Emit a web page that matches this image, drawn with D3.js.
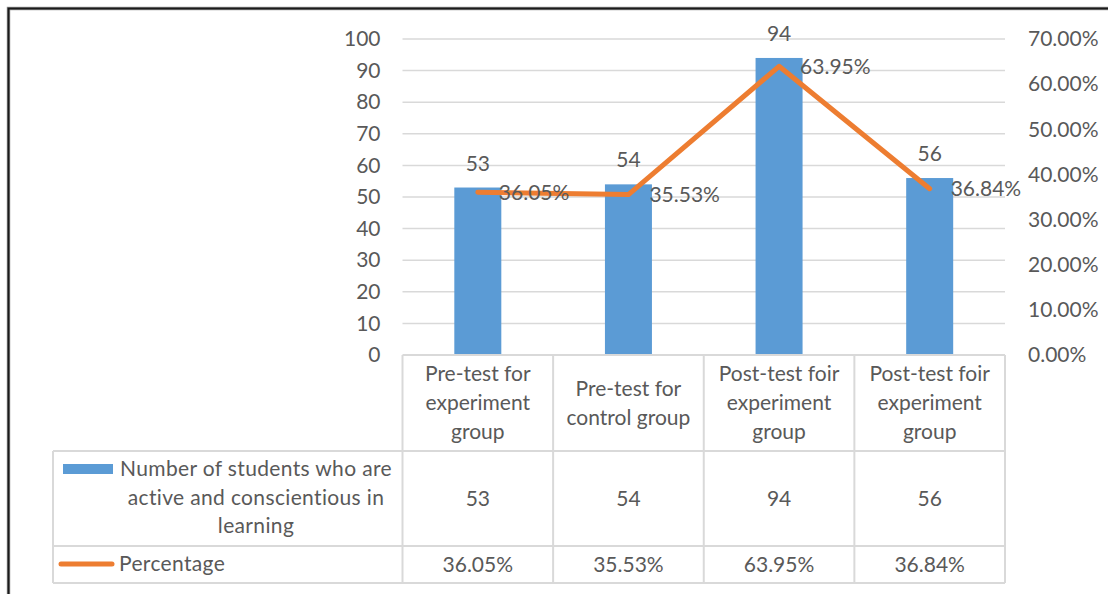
<!DOCTYPE html>
<html>
<head>
<meta charset="utf-8">
<script src="https://cdn.jsdelivr.net/npm/d3@7"></script>
<style>
  html, body { margin: 0; padding: 0; background: #fff; }
  svg { display: block; font-family: Lato, "Open Sans", sans-serif; }
</style>
</head>
<body>
<svg id="chart" width="1108" height="594"></svg>
<script>
// ---- data ----
const categories = [
  "Pre-test for experiment group",
  "Pre-test for control group",
  "Post-test foir experiment group",
  "Post-test foir experiment group"
];
const categoryLines = [
  ["Pre-test for", "experiment", "group"],
  ["Pre-test for", "control group"],
  ["Post-test foir", "experiment", "group"],
  ["Post-test foir", "experiment", "group"]
];
const students = [53, 54, 94, 56];
const percentages = [36.05, 35.53, 63.95, 36.84];
const leftTicks = [0, 10, 20, 30, 40, 50, 60, 70, 80, 90, 100];
const rightTicks = [0, 10, 20, 30, 40, 50, 60, 70];
const seriesNames = [["Number of students who are", "active and conscientious in", "learning"], ["Percentage"]];

// ---- layout ----
const svg = d3.select("#chart");
const textColor = "#595959";
const gridColor = "#D9D9D9";
const barColor = "#5B9BD5";
const lineColor = "#ED7D31";
const fs = 21;

const plotLeft = 402.5, plotRight = 1005, plotTop = 39, plotBottom = 355;
const idx = d3.range(categories.length);
const x = d3.scaleBand().domain(idx).range([plotLeft, plotRight]).paddingInner(0).paddingOuter(0);
const yL = d3.scaleLinear().domain([0, 100]).range([plotBottom, plotTop]);
const yR = d3.scaleLinear().domain([0, 70]).range([plotBottom, plotTop]);

// frame (top & left border)
svg.append("path")
  .attr("d", "M8.5,594 L8.5,8.5 L1108,8.5")
  .attr("fill", "none").attr("stroke", "#9a9a9a").attr("stroke-width", 3.5);
svg.append("path")
  .attr("d", "M8.5,594 L8.5,8.5 L1108,8.5")
  .attr("fill", "none").attr("stroke", "#1a1a1a").attr("stroke-width", 2);

// gridlines
svg.append("g").selectAll("line").data(leftTicks.filter(d => d > 0)).join("line")
  .attr("x1", plotLeft).attr("x2", plotRight)
  .attr("y1", d => yL(d)).attr("y2", d => yL(d))
  .attr("stroke", gridColor).attr("stroke-width", 1.5);

// left axis
const axL = svg.append("g").attr("transform", `translate(${plotLeft},0)`)
  .call(d3.axisLeft(yL).tickValues(leftTicks).tickSize(0).tickPadding(22).tickFormat(d3.format("d")));
axL.select(".domain").remove();
axL.selectAll("text").attr("fill", textColor).style("font-size", fs + "px").style("font-family", "Lato");

// right axis
const axR = svg.append("g").attr("transform", `translate(${plotRight},0)`)
  .call(d3.axisRight(yR).tickValues(rightTicks).tickSize(0).tickPadding(23).tickFormat(d => d.toFixed(2) + "%"));
axR.select(".domain").remove();
axR.selectAll("text").attr("fill", textColor).style("font-size", fs + "px").style("font-family", "Lato");

// bars
const barW = 47;
svg.append("g").selectAll("rect").data(students).join("rect")
  .attr("x", (d, i) => x(i) + x.bandwidth() / 2 - barW / 2)
  .attr("width", barW)
  .attr("y", d => yL(d))
  .attr("height", d => yL(0) - yL(d))
  .attr("fill", barColor);

// bar labels
svg.append("g").selectAll("text").data(students).join("text")
  .attr("x", (d, i) => x(i) + x.bandwidth() / 2)
  .attr("y", d => yL(d) - 17)
  .attr("text-anchor", "middle")
  .attr("fill", textColor).style("font-size", fs + "px")
  .text(d => d);

// line
const line = d3.line()
  .x((d, i) => x(i) + x.bandwidth() / 2)
  .y(d => yR(d));
svg.append("path").datum(percentages)
  .attr("d", line)
  .attr("fill", "none").attr("stroke", lineColor).attr("stroke-width", 5)
  .attr("stroke-linecap", "round").attr("stroke-linejoin", "round");

// line labels
svg.append("g").selectAll("text").data(percentages).join("text")
  .attr("x", (d, i) => x(i) + x.bandwidth() / 2 + 21)
  .attr("y", d => yR(d))
  .attr("dy", "0.35em")
  .attr("fill", textColor).style("font-size", fs + "px")
  .text(d => d.toFixed(2) + "%");

// ---- data table ----
const tableLeft = 53, rowTop = [355, 451, 546], tableBottom = 583;
const tg = svg.append("g").attr("stroke", gridColor).attr("stroke-width", 2).attr("fill", "none");
tg.append("line").attr("x1", plotLeft).attr("x2", plotRight).attr("y1", rowTop[0]).attr("y2", rowTop[0]);
tg.append("line").attr("x1", tableLeft).attr("x2", plotRight).attr("y1", rowTop[1]).attr("y2", rowTop[1]);
tg.append("line").attr("x1", tableLeft).attr("x2", plotRight).attr("y1", rowTop[2]).attr("y2", rowTop[2]);
tg.append("line").attr("x1", tableLeft).attr("x2", plotRight).attr("y1", tableBottom).attr("y2", tableBottom);
tg.append("line").attr("x1", tableLeft).attr("x2", tableLeft).attr("y1", rowTop[1]).attr("y2", tableBottom);
idx.concat([categories.length]).forEach(i => {
  const xv = i < categories.length ? x(i) : plotRight;
  tg.append("line").attr("x1", xv).attr("x2", xv).attr("y1", rowTop[0]).attr("y2", tableBottom);
});

// header category labels
const lh = 29;
idx.forEach(i => {
  const lines = categoryLines[i];
  const cy = (rowTop[0] + rowTop[1]) / 2;
  const start = cy - (lines.length - 1) * lh / 2;
  lines.forEach((t, j) => {
    svg.append("text")
      .attr("x", x(i) + x.bandwidth() / 2)
      .attr("y", start + j * lh).attr("dy", "0.35em")
      .attr("text-anchor", "middle").attr("fill", textColor).style("font-size", fs + "px")
      .text(t);
  });
});

// row values
idx.forEach(i => {
  svg.append("text")
    .attr("x", x(i) + x.bandwidth() / 2).attr("y", (rowTop[1] + rowTop[2]) / 2).attr("dy", "0.35em")
    .attr("text-anchor", "middle").attr("fill", textColor).style("font-size", fs + "px")
    .text(students[i]);
  svg.append("text")
    .attr("x", x(i) + x.bandwidth() / 2).attr("y", (rowTop[2] + tableBottom) / 2).attr("dy", "0.35em")
    .attr("text-anchor", "middle").attr("fill", textColor).style("font-size", fs + "px")
    .text(percentages[i].toFixed(2) + "%");
});

// legend keys and series names
svg.append("rect").attr("x", 63).attr("y", 464).attr("width", 50).attr("height", 10).attr("fill", barColor);
seriesNames[0].forEach((t, j) => {
  svg.append("text")
    .attr("x", 256).attr("y", 469 + j * 28.5).attr("dy", "0.35em")
    .attr("text-anchor", "middle").attr("fill", textColor).style("font-size", fs + "px")
    .style("letter-spacing", "0.35px")
    .text(t);
});
svg.append("line").attr("x1", 61).attr("x2", 112).attr("y1", 564).attr("y2", 564)
  .attr("stroke", lineColor).attr("stroke-width", 5).attr("stroke-linecap", "round");
svg.append("text")
  .attr("x", 119).attr("y", 564).attr("dy", "0.35em")
  .attr("fill", textColor).style("font-size", fs + "px")
  .style("letter-spacing", "0.35px")
  .text(seriesNames[1][0]);
</script>
</body>
</html>
